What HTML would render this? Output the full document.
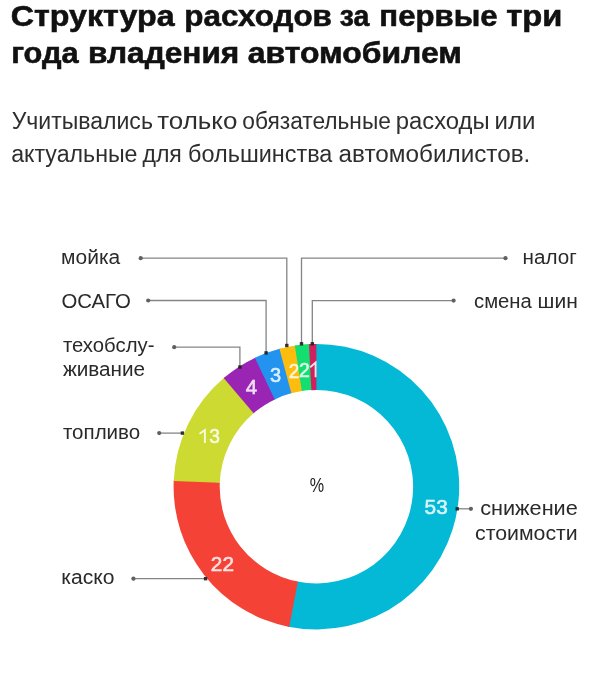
<!DOCTYPE html>
<html><head><meta charset="utf-8">
<style>
html,body{margin:0;padding:0;background:#fff;width:604px;height:674px;overflow:hidden}
svg{display:block;font-family:"Liberation Sans",sans-serif;will-change:transform}
</style></head>
<body>
<svg width="604" height="674" viewBox="0 0 604 674">
<rect width="604" height="674" fill="#fff"/>
<path d="M315.40 343.90A142.8 142.8 0 1 1 288.17 626.68L297.29 581.49A96.7 96.7 0 1 0 315.72 390.00Z" fill="#03b9d5"/>
<path d="M289.15 626.88A142.8 142.8 0 0 1 173.76 479.97L219.81 482.14A96.7 96.7 0 0 0 297.95 581.62Z" fill="#f44237"/>
<path d="M173.72 480.97A142.8 142.8 0 0 1 224.42 377.47L254.11 412.73A96.7 96.7 0 0 0 219.78 482.82Z" fill="#ccda32"/>
<path d="M223.66 378.11A142.8 142.8 0 0 1 255.82 357.38L275.38 399.13A96.7 96.7 0 0 0 253.60 413.17Z" fill="#9a25b5"/>
<path d="M254.92 357.81A142.8 142.8 0 0 1 280.40 348.51L292.02 393.12A96.7 96.7 0 0 0 274.77 399.42Z" fill="#2294f0"/>
<path d="M279.44 348.77A142.8 142.8 0 0 1 295.79 345.40L302.44 391.01A96.7 96.7 0 0 0 291.37 393.29Z" fill="#fdbd0f"/>
<path d="M294.80 345.54A142.8 142.8 0 0 1 309.92 344.05L312.01 390.10A96.7 96.7 0 0 0 301.77 391.11Z" fill="#12df70"/>
<path d="M308.93 344.10A142.8 142.8 0 0 1 316.40 343.90L316.40 390.00A96.7 96.7 0 0 0 311.34 390.13Z" fill="#cf2160"/>
<path d="M140.7 258.2 L286.8 258.2 L286.8 345.5" fill="none" stroke="#858585" stroke-width="1.3"/><circle cx="140.7" cy="258.2" r="2.1" fill="#606060"/><rect x="285.1" y="343.8" width="3.4" height="3.4" fill="#1e1e1e" fill-opacity="0.9"/>
<path d="M505.5 258.2 L301.5 258.2 L301.5 343.8" fill="none" stroke="#858585" stroke-width="1.3"/><circle cx="505.5" cy="258.2" r="2.1" fill="#606060"/><rect x="299.8" y="342.1" width="3.4" height="3.4" fill="#1e1e1e" fill-opacity="0.9"/>
<path d="M148.2 300.5 L266.1 300.5 L266.1 352.9" fill="none" stroke="#858585" stroke-width="1.3"/><circle cx="148.2" cy="300.5" r="2.1" fill="#606060"/><rect x="264.4" y="351.2" width="3.4" height="3.4" fill="#1e1e1e" fill-opacity="0.9"/>
<path d="M453.6 300.6 L312.3 300.6 L312.3 343.8" fill="none" stroke="#858585" stroke-width="1.3"/><circle cx="453.6" cy="300.6" r="2.1" fill="#606060"/><rect x="310.6" y="342.1" width="3.4" height="3.4" fill="#1e1e1e" fill-opacity="0.9"/>
<path d="M174.2 347.2 L239.9 347.2 L239.9 367.0" fill="none" stroke="#858585" stroke-width="1.3"/><circle cx="174.2" cy="347.2" r="2.1" fill="#606060"/><rect x="238.2" y="365.3" width="3.4" height="3.4" fill="#1e1e1e" fill-opacity="0.9"/>
<path d="M159.2 433.1 L182.4 433.1" fill="none" stroke="#858585" stroke-width="1.3"/><circle cx="159.2" cy="433.1" r="2.1" fill="#606060"/><rect x="180.7" y="431.4" width="3.4" height="3.4" fill="#1e1e1e" fill-opacity="0.9"/>
<path d="M133.4 578.7 L205.6 578.7" fill="none" stroke="#858585" stroke-width="1.3"/><circle cx="133.4" cy="578.7" r="2.1" fill="#606060"/><rect x="203.9" y="577.0" width="3.4" height="3.4" fill="#1e1e1e" fill-opacity="0.9"/>
<path d="M470.9 508.8 L457.2 508.8" fill="none" stroke="#858585" stroke-width="1.3"/><circle cx="470.9" cy="508.8" r="2.1" fill="#606060"/><rect x="455.5" y="507.1" width="3.4" height="3.4" fill="#1e1e1e" fill-opacity="0.9"/>
<text x="10.83" y="25.6" font-size="30" font-weight="700" fill="#111" stroke="#111" stroke-width="0.6" textLength="163.81" lengthAdjust="spacingAndGlyphs">Структура</text>
<text x="184.27" y="25.6" font-size="30" font-weight="700" fill="#111" stroke="#111" stroke-width="0.6" textLength="147.66" lengthAdjust="spacingAndGlyphs">расходов</text>
<text x="339.82" y="25.6" font-size="30" font-weight="700" fill="#111" stroke="#111" stroke-width="0.6" textLength="29.66" lengthAdjust="spacingAndGlyphs">за</text>
<text x="379.38" y="25.6" font-size="30" font-weight="700" fill="#111" stroke="#111" stroke-width="0.6" textLength="118.17" lengthAdjust="spacingAndGlyphs">первые</text>
<text x="506.35" y="25.6" font-size="30" font-weight="700" fill="#111" stroke="#111" stroke-width="0.6" textLength="56.11" lengthAdjust="spacingAndGlyphs">три</text>
<text x="11.20" y="62.7" font-size="30" font-weight="700" fill="#111" stroke="#111" stroke-width="0.6" textLength="67.49" lengthAdjust="spacingAndGlyphs">года</text>
<text x="87.95" y="62.7" font-size="30" font-weight="700" fill="#111" stroke="#111" stroke-width="0.6" textLength="151.38" lengthAdjust="spacingAndGlyphs">владения</text>
<text x="247.77" y="62.7" font-size="30" font-weight="700" fill="#111" stroke="#111" stroke-width="0.6" textLength="214.14" lengthAdjust="spacingAndGlyphs">автомобилем</text>
<text x="11.65" y="128.9" font-size="23" font-weight="400" fill="#2e2e2e" textLength="141.26" lengthAdjust="spacingAndGlyphs">Учитывались</text>
<text x="157.24" y="128.9" font-size="23" font-weight="400" fill="#2e2e2e" textLength="80.10" lengthAdjust="spacingAndGlyphs">только</text>
<text x="242.31" y="128.9" font-size="23" font-weight="400" fill="#2e2e2e" textLength="148.56" lengthAdjust="spacingAndGlyphs">обязательные</text>
<text x="395.75" y="128.9" font-size="23" font-weight="400" fill="#2e2e2e" textLength="93.87" lengthAdjust="spacingAndGlyphs">расходы</text>
<text x="494.53" y="128.9" font-size="23" font-weight="400" fill="#2e2e2e" textLength="40.86" lengthAdjust="spacingAndGlyphs">или</text>
<text x="11.19" y="162.1" font-size="23" font-weight="400" fill="#2e2e2e" textLength="126.33" lengthAdjust="spacingAndGlyphs">актуальные</text>
<text x="142.45" y="162.1" font-size="23" font-weight="400" fill="#2e2e2e" textLength="39.40" lengthAdjust="spacingAndGlyphs">для</text>
<text x="188.13" y="162.1" font-size="23" font-weight="400" fill="#2e2e2e" textLength="144.27" lengthAdjust="spacingAndGlyphs">большинства</text>
<text x="338.64" y="162.1" font-size="23" font-weight="400" fill="#2e2e2e" textLength="191.72" lengthAdjust="spacingAndGlyphs">автомобилистов.</text>
<text x="61.13" y="263.7" font-size="20" font-weight="400" fill="#2a2a2a" textLength="59.09" lengthAdjust="spacingAndGlyphs">мойка</text>
<text x="61.48" y="307.8" font-size="20" font-weight="400" fill="#2a2a2a" textLength="69.35" lengthAdjust="spacingAndGlyphs">ОСАГО</text>
<text x="62.95" y="352.2" font-size="20" font-weight="400" fill="#2a2a2a" textLength="91.50" lengthAdjust="spacingAndGlyphs">техобслу-</text>
<text x="62.94" y="375.6" font-size="20" font-weight="400" fill="#2a2a2a" textLength="82.20" lengthAdjust="spacingAndGlyphs">живание</text>
<text x="62.94" y="438.8" font-size="20" font-weight="400" fill="#2a2a2a" textLength="77.23" lengthAdjust="spacingAndGlyphs">топливо</text>
<text x="61.28" y="583.9" font-size="20" font-weight="400" fill="#2a2a2a" textLength="53.18" lengthAdjust="spacingAndGlyphs">каско</text>
<text x="522.55" y="263.6" font-size="20" font-weight="400" fill="#2a2a2a" textLength="54.14" lengthAdjust="spacingAndGlyphs">налог</text>
<text x="474.04" y="307.7" font-size="20" font-weight="400" fill="#2a2a2a" textLength="57.80" lengthAdjust="spacingAndGlyphs">смена</text>
<text x="537.63" y="307.7" font-size="20" font-weight="400" fill="#2a2a2a" textLength="40.16" lengthAdjust="spacingAndGlyphs">шин</text>
<text x="480.19" y="515.4" font-size="20" font-weight="400" fill="#2a2a2a" textLength="97.59" lengthAdjust="spacingAndGlyphs">снижение</text>
<text x="475.00" y="539.8" font-size="20" font-weight="400" fill="#2a2a2a" textLength="102.73" lengthAdjust="spacingAndGlyphs">стоимости</text>
<text x="309.71" y="492.3" font-size="20.5" font-weight="400" fill="#222" textLength="14.37" lengthAdjust="spacingAndGlyphs">%</text>
<g opacity="0.85"><text x="424.61" y="513.8" font-size="21" font-weight="400" fill="#fff" stroke="#fff" stroke-width="0.6" textLength="23.10" lengthAdjust="spacingAndGlyphs">53</text><text x="210.86" y="570.9" font-size="21" font-weight="400" fill="#fff" stroke="#fff" stroke-width="0.6" textLength="23.09" lengthAdjust="spacingAndGlyphs">22</text><text x="209.24" y="443.3" font-size="21" font-weight="400" fill="#fff" stroke="#fff" stroke-width="0.6" textLength="10.68" lengthAdjust="spacingAndGlyphs">3</text><text x="245.75" y="393.9" font-size="21" font-weight="400" fill="#fff" stroke="#fff" stroke-width="0.6" textLength="11.47" lengthAdjust="spacingAndGlyphs">4</text><text x="270.12" y="382.0" font-size="21" font-weight="400" fill="#fff" stroke="#fff" stroke-width="0.6" textLength="11.12" lengthAdjust="spacingAndGlyphs">3</text><text x="288.63" y="377.5" font-size="21" font-weight="400" fill="#fff" stroke="#fff" stroke-width="0.6" textLength="10.48" lengthAdjust="spacingAndGlyphs">2</text><text x="299.00" y="377.4" font-size="21" font-weight="400" fill="#fff" stroke="#fff" stroke-width="0.6" textLength="10.83" lengthAdjust="spacingAndGlyphs">2</text><path d="M310.2 367.2L315.6 362.6V377.2M199.5 433.7L204.9 430.1V443.1" fill="none" stroke="#fff" stroke-width="1.9"/></g>
</svg>
</body></html>
